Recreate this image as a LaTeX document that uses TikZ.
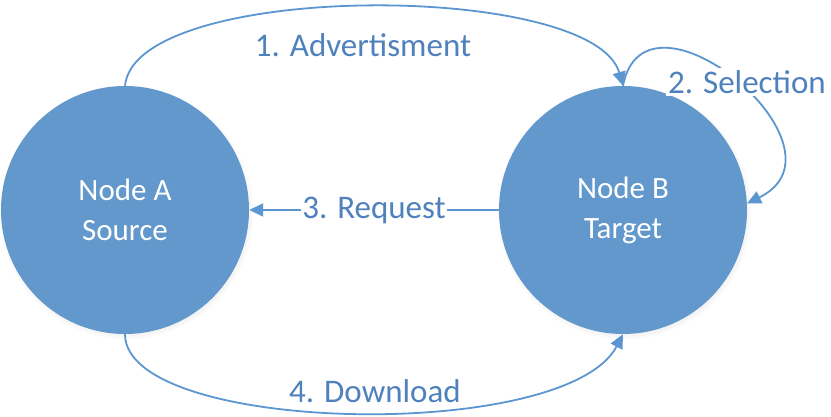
\documentclass[tikz,border=0pt]{standalone}
\usepackage{fontspec}
\setmainfont{Carlito}
\usetikzlibrary{arrows.meta,shadows}
\definecolor{nodeblue}{RGB}{99,152,204}
\definecolor{lineblue}{RGB}{91,150,208}
\definecolor{textblue}{RGB}{79,129,189}
\begin{document}
\begin{tikzpicture}[x=1pt,y=1pt,>={Triangle[length=14pt,width=13pt]}]
	\tikzstyle{peer}=[shape=circle,fill=nodeblue,minimum size=248pt,inner sep=0pt,text=white,align=center,font=\fontsize{31}{40}\selectfont,circular drop shadow={shadow scale=1.03,shadow xshift=1pt,shadow yshift=-2pt,opacity=0.3}]
	\tikzstyle{msg}=[text=textblue,font=\fontsize{33}{38}\selectfont]
	\tikzstyle{link}=[draw=lineblue,line width=1.8pt]

	\useasboundingbox (0,0) rectangle (831,417);

	\node[peer](a) at (125,207){Node A\\Source};
	\node[peer](b) at (623,207){Node B\\Target};

	\node[msg](adv) at (363,372){1. Advertisment};
	\node[msg](dl) at (375,26){4. Download};

	\draw[link,->] (a.north) .. controls +(10,105) and +(-30,105) .. (b.north);
	\draw[link,->] (b.north) .. controls +(22,115) and +(112,55) .. (b.3);
	\node[msg,fill=white,inner sep=2pt](sel) at (747,335){2. Selection};
	\draw[link,->] (b.west) -- (a.east) node[msg,fill=white,midway,inner sep=1pt](req){3. Request};
	\draw[link,->] (a.south) .. controls +(0,-100) and +(-57,-109) .. (b.south);
\end{tikzpicture}
\end{document}
